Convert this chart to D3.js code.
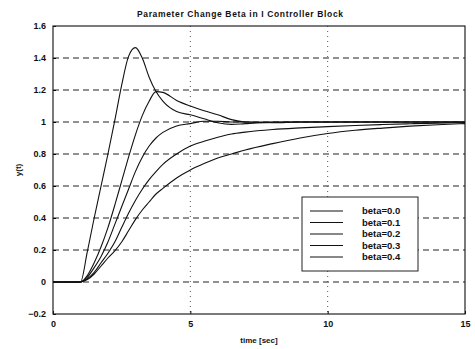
<!DOCTYPE html>
<html>
<head>
<meta charset="utf-8">
<script src="https://cdn.jsdelivr.net/npm/d3@7"></script>
<style>
  body { margin: 0; background: #fff; }
  svg text { font-family: 'Liberation Sans', Arial, sans-serif; font-weight: bold; fill: #111; }
</style>
</head>
<body>
<svg id="chart" width="475" height="349"></svg>
<script>
const time = [0, 1, 1.25, 1.5, 1.75, 2, 2.25, 2.5, 2.75, 3, 3.25, 3.5, 3.75, 4, 4.5, 5, 5.5, 6, 6.5, 7, 8, 9, 10, 11, 12, 13, 14, 15];

const beta00 = [0, 0, 0.19, 0.40, 0.60, 0.80, 1.01, 1.23, 1.41, 1.465, 1.40, 1.28, 1.19, 1.13, 1.065, 1.045, 1.02, 0.995, 0.985, 0.99, 0.998, 1, 1, 1, 1, 1, 1, 1];
const beta01 = [0, 0, 0.04, 0.12, 0.22, 0.34, 0.48, 0.63, 0.78, 0.92, 1.04, 1.13, 1.19, 1.185, 1.135, 1.10, 1.07, 1.045, 1.015, 1.0, 0.995, 1, 1, 1, 1, 1, 1, 1];
const beta02 = [0, 0, 0.03, 0.09, 0.16, 0.25, 0.36, 0.47, 0.58, 0.69, 0.78, 0.85, 0.90, 0.935, 0.975, 0.99, 1.005, 1.005, 1.0, 1.0, 1, 1, 1, 1, 1, 1, 1, 1];
const beta03 = [0, 0, 0.02, 0.06, 0.12, 0.18, 0.25, 0.34, 0.43, 0.51, 0.58, 0.64, 0.69, 0.735, 0.80, 0.85, 0.88, 0.905, 0.925, 0.937, 0.953, 0.963, 0.971, 0.978, 0.984, 0.989, 0.993, 0.996];
const beta04 = [0, 0, 0.015, 0.05, 0.10, 0.15, 0.195, 0.25, 0.32, 0.39, 0.45, 0.50, 0.55, 0.585, 0.65, 0.70, 0.74, 0.775, 0.80, 0.825, 0.865, 0.90, 0.928, 0.948, 0.962, 0.974, 0.983, 0.99];

const seriesNames = ['beta=0.0', 'beta=0.1', 'beta=0.2', 'beta=0.3', 'beta=0.4'];
const seriesValues = [beta00, beta01, beta02, beta03, beta04];

const xTicks = [0, 5, 10, 15];
const yTicks = [-0.2, 0, 0.2, 0.4, 0.6, 0.8, 1, 1.2, 1.4, 1.6];

const titleText = 'Parameter Change Beta in I Controller Block';
const xLabel = 'time [sec]';
const yLabel = 'y(t)';

const svg = d3.select('#chart');

const plot = { left: 53, right: 465, top: 26, bottom: 314 };

const xScale = d3.scaleLinear().domain([0, 15]).range([plot.left, plot.right]);
const yScale = d3.scaleLinear().domain([-0.2, 1.6]).range([plot.bottom, plot.top]);

// grid
svg.append('g')
  .selectAll('line')
  .data(yTicks.slice(1, -1))
  .enter()
  .append('line')
  .attr('x1', plot.left)
  .attr('x2', plot.right)
  .attr('y1', d => yScale(d))
  .attr('y2', d => yScale(d))
  .attr('stroke', '#222')
  .attr('stroke-width', 1)
  .attr('stroke-dasharray', '6,4');

svg.append('g')
  .selectAll('line')
  .data(xTicks.slice(1, -1))
  .enter()
  .append('line')
  .attr('x1', d => xScale(d))
  .attr('x2', d => xScale(d))
  .attr('y1', plot.top)
  .attr('y2', plot.bottom)
  .attr('stroke', '#555')
  .attr('stroke-width', 1)
  .attr('stroke-dasharray', '1,4');

// axes, ticks drawn inward like the original
const xAxis = d3.axisBottom(xScale).tickValues(xTicks).tickSize(-3).tickPadding(7).tickFormat(d3.format('d'));
const yAxis = d3.axisLeft(yScale).tickValues(yTicks).tickSize(-3).tickPadding(7)
  .tickFormat(d => d === 0 ? '0' : d3.format('.1f')(d).replace(/\.0$/, ''));

svg.append('g')
  .attr('transform', 'translate(0,' + plot.bottom + ')')
  .call(xAxis)
  .call(g => g.select('.domain').remove())
  .call(g => g.selectAll('text').style('font-size', '9px').attr('fill', '#111'));

svg.append('g')
  .attr('transform', 'translate(' + plot.left + ',0)')
  .call(yAxis)
  .call(g => g.select('.domain').remove())
  .call(g => g.selectAll('text').style('font-size', '9px').attr('fill', '#111'));

// frame
svg.append('rect')
  .attr('x', plot.left)
  .attr('y', plot.top)
  .attr('width', plot.right - plot.left)
  .attr('height', plot.bottom - plot.top)
  .attr('fill', 'none')
  .attr('stroke', '#222')
  .attr('stroke-width', 1.2);

// curves
const line = d3.line()
  .x((d, i) => xScale(time[i]))
  .y(d => yScale(d))
  .curve(d3.curveMonotoneX);

svg.append('g')
  .selectAll('path')
  .data(seriesValues)
  .enter()
  .append('path')
  .attr('d', d => line(d))
  .attr('fill', 'none')
  .attr('stroke', '#111')
  .attr('stroke-width', 1.1);

// legend
const legend = svg.append('g').attr('transform', 'translate(302,197)');

legend.append('rect')
  .attr('width', 116)
  .attr('height', 74)
  .attr('fill', '#fff')
  .attr('stroke', '#222')
  .attr('stroke-width', 1);

const legendEntry = legend.selectAll('g.entry')
  .data(seriesNames)
  .enter()
  .append('g')
  .attr('class', 'entry')
  .attr('transform', (d, i) => 'translate(0,' + (14 + i * 11.5) + ')');

legendEntry.append('line')
  .attr('x1', 8)
  .attr('x2', 41)
  .attr('stroke', '#111')
  .attr('stroke-width', 1);

legendEntry.append('text')
  .attr('x', 60)
  .attr('dy', '0.35em')
  .style('font-size', '9.5px')
  .text(d => d);

// labels
svg.append('text')
  .attr('x', 240)
  .attr('y', 17)
  .attr('text-anchor', 'middle')
  .style('font-size', '8.5px')
  .attr('textLength', 206)
  .text(titleText);

svg.append('text')
  .attr('x', xScale(7.5))
  .attr('y', 343)
  .attr('text-anchor', 'middle')
  .style('font-size', '8px')
  .text(xLabel);

svg.append('text')
  .attr('transform', 'translate(21,' + yScale(0.7) + ') rotate(-90)')
  .attr('text-anchor', 'middle')
  .style('font-size', '8px')
  .text(yLabel);
</script>
</body>
</html>
